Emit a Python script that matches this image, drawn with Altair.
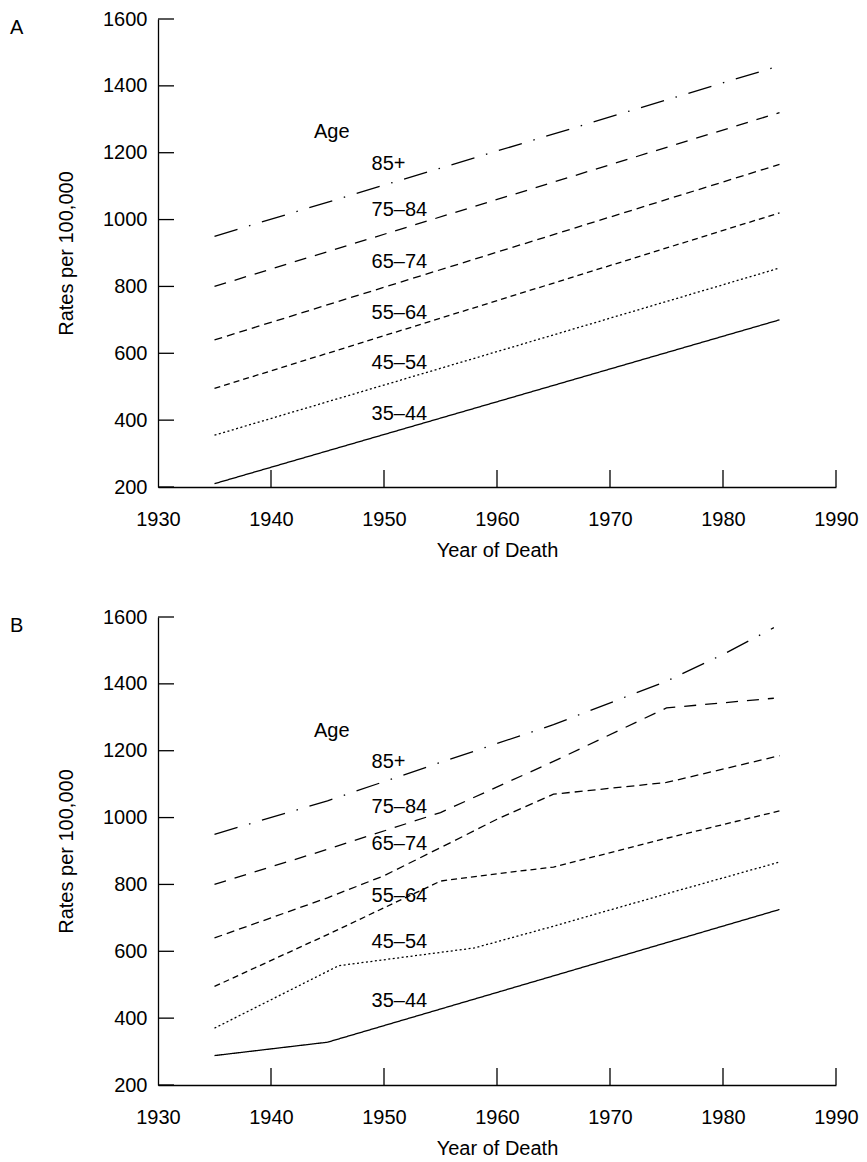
import altair as alt
import pandas as pd

FONT = "Liberation Sans"

# ---------------- data ----------------
ages = ["35–44", "45–54", "55–64", "65–74", "75–84", "85+"]

# Panel A (straight lines)
a_years = [1935, 1985]
a_35 = [210, 700]
a_45 = [355, 855]
a_55 = [495, 1020]
a_65 = [640, 1165]
a_75 = [800, 1320]
a_85 = [950, 1460]

# Panel B
b_35_years = [1935, 1945, 1985]
b_35 = [288, 328, 725]
b_45_years = [1935, 1946, 1958, 1965, 1975, 1985]
b_45 = [370, 557, 610, 675, 772, 867]
b_55_years = [1935, 1945, 1955, 1960, 1965, 1975, 1985]
b_55 = [495, 650, 810, 832, 852, 938, 1020]
b_65_years = [1935, 1945, 1950, 1955, 1960, 1965, 1975, 1985]
b_65 = [640, 760, 826, 910, 995, 1070, 1105, 1185]
b_75_years = [1935, 1945, 1955, 1965, 1975, 1984.5]
b_75 = [800, 905, 1015, 1168, 1328, 1357]
b_85_years = [1935, 1945, 1955, 1965, 1975, 1980, 1984.5]
b_85 = [950, 1050, 1165, 1278, 1408, 1488, 1568]

# label positions (data coordinates)
label_texts = ["Age", "85+", "75–84", "65–74", "55–64", "45–54", "35–44"]
label_years = [1943.8, 1948.9, 1948.9, 1948.9, 1948.9, 1948.9, 1948.9]
a_label_rates = [1262, 1165, 1030, 874, 721, 570, 417]
b_label_rates = [1260, 1167, 1031, 921, 766, 627, 452]

x_ticks = [1930, 1940, 1950, 1960, 1970, 1980, 1990]
y_ticks = [200, 400, 600, 800, 1000, 1200, 1400, 1600]
panel_letters = ["A", "B"]

dashes = [[1, 0], [2, 2.5], [6, 4], [8, 5], [12, 9], [24, 12, 1.5, 12]]

# ---------------- build tables ----------------
def long(years_list, vals_list):
    rows = []
    for age, ys, vs in zip(ages, years_list, vals_list):
        for y, v in zip(ys, vs):
            rows.append({"year": y, "rate": v, "age": age})
    return pd.DataFrame(rows)

df_a = long([a_years] * 6, [a_35, a_45, a_55, a_65, a_75, a_85])
df_b = long([b_35_years, b_45_years, b_55_years, b_65_years, b_75_years, b_85_years],
            [b_35, b_45, b_55, b_65, b_75, b_85])

W, H = 678, 468

X = alt.X("year:Q",
          scale=alt.Scale(domain=[1930, 1990], nice=False, zero=False),
          axis=alt.Axis(values=x_ticks, format="d", title="Year of Death",
                        tickSize=0, labelPadding=22, titlePadding=11,
                        labelFlush=False, labelOverlap=False))
Y = alt.Y("rate:Q",
          scale=alt.Scale(domain=[200, 1600], nice=False, zero=False),
          axis=alt.Axis(values=y_ticks, format="d", title="Rates per 100,000",
                        tickSize=0, labelPadding=11, titlePadding=26,
                        labelFlush=False, labelOverlap=False))


def panel(df, label_rates, letter):
    lines = alt.Chart(df).mark_line(color="black", strokeWidth=1.3).encode(
        x=X, y=Y,
        strokeDash=alt.StrokeDash("age:N", scale=alt.Scale(domain=ages, range=dashes), legend=None),
    )
    lab = pd.DataFrame({"year": label_years, "rate": label_rates, "label": label_texts})
    texts = alt.Chart(lab).mark_text(align="left", baseline="middle", fontSize=20,
                                     font=FONT, color="black").encode(x=X, y=Y, text="label:N")
    yt = alt.Chart(pd.DataFrame({"rate": y_ticks})).mark_rule(color="black", strokeWidth=1.3).encode(
        y=Y, x=alt.value(0), x2=alt.value(16))
    xt = alt.Chart(pd.DataFrame({"year": x_ticks[1:]})).mark_rule(color="black", strokeWidth=1.3).encode(
        x=X, y=alt.value(H), y2=alt.value(H - 17))
    let = alt.Chart(pd.DataFrame({"letter": [letter]})).mark_text(
        align="left", baseline="top", fontSize=20, font=FONT, color="black").encode(
        x=alt.value(-148), y=alt.value(-1), text="letter:N")
    return alt.layer(lines, texts, yt, xt, let).properties(width=W, height=H)


chart = alt.vconcat(panel(df_a, a_label_rates, panel_letters[0]),
                    panel(df_b, b_label_rates, panel_letters[1]),
                    spacing=47).properties(
    padding={"left": 2, "top": 1, "right": 0, "bottom": 0}
).configure_view(stroke=None).configure_axis(
    domainColor="black", domainWidth=1.3, grid=False,
    labelFont=FONT, labelFontSize=20, labelColor="black",
    titleFont=FONT, titleFontSize=20, titleColor="black", titleFontWeight="normal",
)

chart.save("out.html", embed_options={"renderer": "svg", "actions": False})
